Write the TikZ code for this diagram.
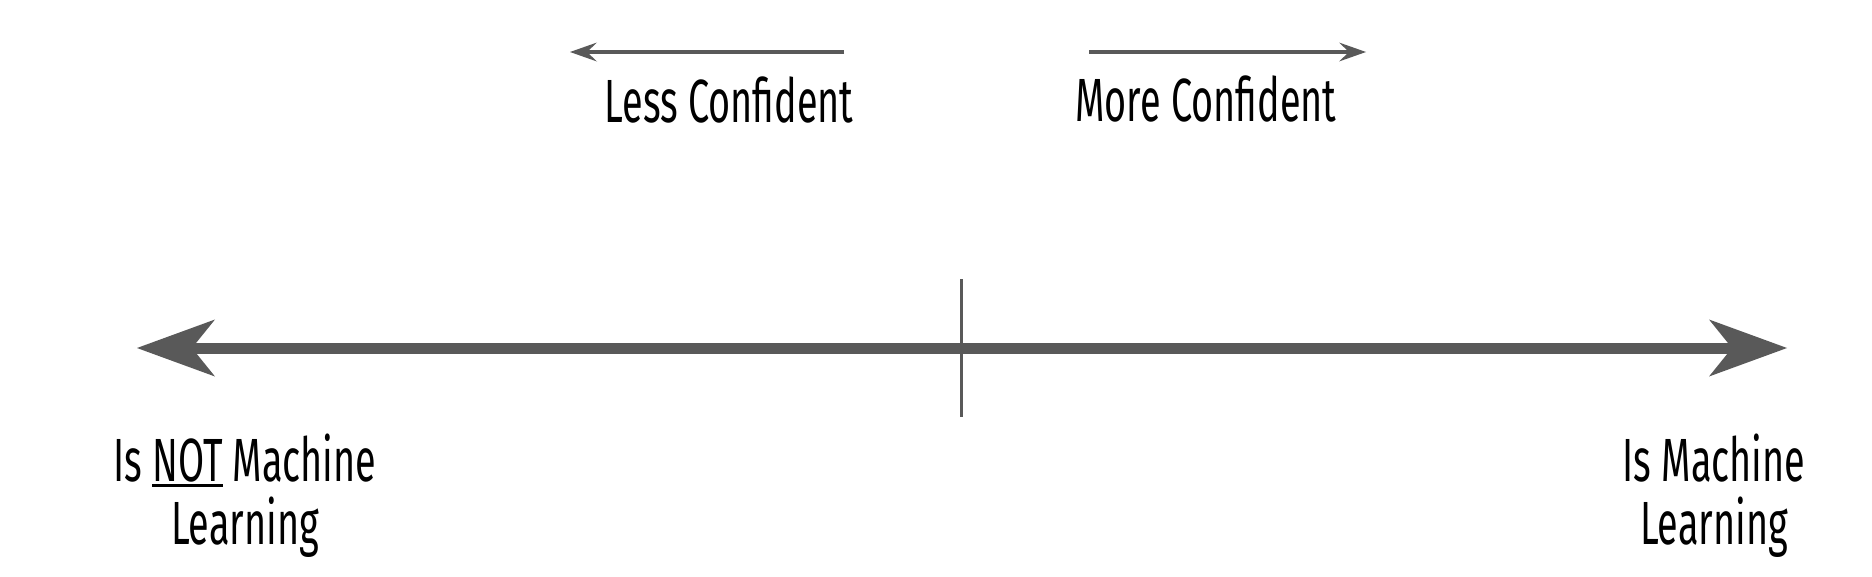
\documentclass[tikz,border=0pt]{standalone}
\usepackage{fontspec}
\usetikzlibrary{arrows.meta}
\newfontfamily\labelfont[FakeStretch=0.62]{Fira Sans}
\newsavebox\ulbox
\newcommand\myul[1]{\leavevmode\sbox\ulbox{#1}\rlap{\rule[-5.5pt]{\wd\ulbox}{2.8pt}}\usebox\ulbox}
\definecolor{axisgray}{HTML}{595959}
\tikzset{
  bigarrow/.style={draw=axisgray, line width=11pt,
    {Stealth[length=78pt, width=57pt, inset=23pt, line width=0pt]}-{Stealth[length=78pt, width=57pt, inset=23pt, line width=0pt]}},
  smallarrow/.style={draw=axisgray, line width=4pt,
    -{Stealth[length=27pt, width=19pt, inset=10pt, line width=0pt]}},
  tickline/.style={draw=axisgray, line width=3pt},
  lbl/.style={font=\labelfont\fontsize{61}{63}\selectfont, text=black, inner sep=0pt, anchor=base, align=center}
}
\begin{document}
\begin{tikzpicture}[x=1pt, y=-1pt]
\useasboundingbox[fill=white] (0,0) rectangle (1872,576);
% main axis
\coordinate (L) at (137,348);
\coordinate (R) at (1787,348);
\coordinate (T1) at (961,279);
\coordinate (T2) at (961,417);
\draw[bigarrow] (L) -- (R);
\draw[tickline] (T1) -- (T2);
% confidence arrows
\coordinate (lessS) at (844,52);
\coordinate (lessE) at (570,52);
\coordinate (moreS) at (1089,52);
\coordinate (moreE) at (1366,52);
\draw[smallarrow] (lessS) -- (lessE);
\draw[smallarrow] (moreS) -- (moreE);
% labels
\node[lbl] (less) at (729,122) {Less Confident};
\node[lbl] (more) at (1206,121) {More Confident};
\node[lbl] (notml) at (245,544) {Is \myul{NOT} Machine\\Learning};
\node[lbl] (isml) at (1714,544) {Is Machine\\Learning};
\end{tikzpicture}
\end{document}
